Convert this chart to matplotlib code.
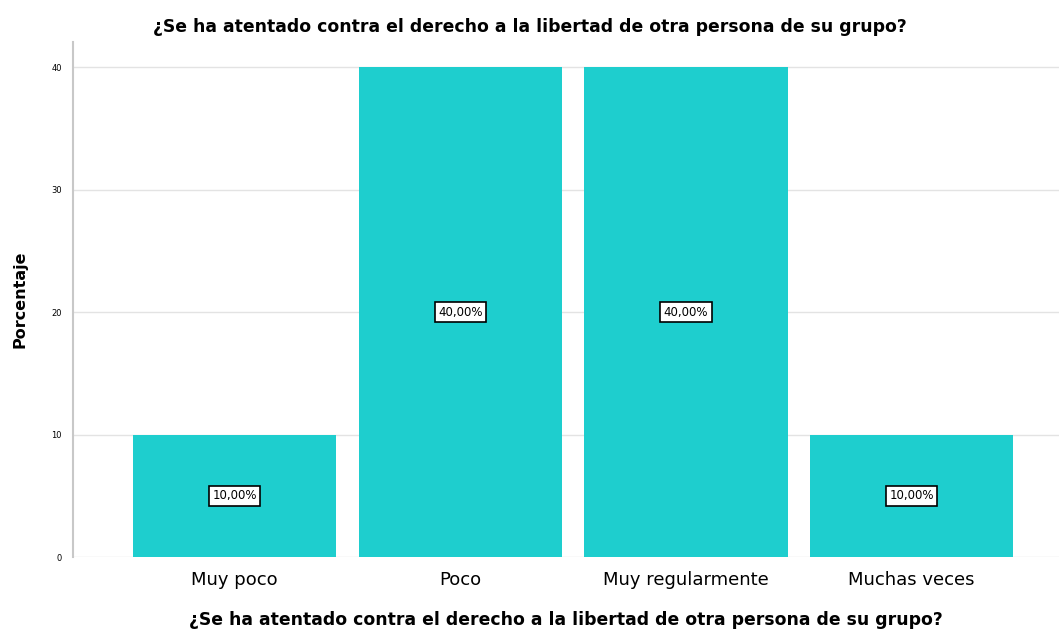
import matplotlib
matplotlib.use('Agg')
import matplotlib.pyplot as plt
import numpy as np

titulo = '¿Se ha atentado contra el derecho a la libertad de otra persona de su grupo?'
categorias = ['Muy poco', 'Poco', 'Muy regularmente', 'Muchas veces']
porcentajes = [10.0, 40.0, 40.0, 10.0]
etiquetas = ['10,00%', '40,00%', '40,00%', '10,00%']
yticks = [0, 10, 20, 30, 40]

plt.rcParams['font.family'] = ['DejaVu Sans']

fig = plt.figure(figsize=(10.59, 6.31), dpi=100)
ax = fig.add_axes([0.069, 0.117, 0.931, 0.817])

x = np.arange(len(categorias))
ax.bar(x, porcentajes, width=0.9, color='#1ECECE', zorder=2)

for xi, yi, lab in zip(x, porcentajes, etiquetas):
    ax.text(xi, yi / 2, lab, ha='center', va='center', fontsize=8.5, zorder=3,
            bbox=dict(boxstyle='square,pad=0.3', facecolor='white', edgecolor='black', linewidth=1.2))

ax.set_xlim(-0.716, 3.653)
ax.set_ylim(0, 42.1)
ax.set_yticks(yticks)
ax.set_yticklabels([str(t) for t in yticks], fontsize=6)
ax.set_xticks(x)
ax.set_xticklabels(categorias, fontsize=13)
ax.tick_params(axis='x', length=0, pad=10)
ax.tick_params(axis='y', length=0, pad=8)
ax.yaxis.grid(True, color='#e3e3e3', linewidth=1, zorder=0)
ax.set_axisbelow(True)

for s in ['top', 'right', 'bottom']:
    ax.spines[s].set_visible(False)
ax.spines['left'].set_color('#c8c8c8')
ax.spines['left'].set_linewidth(1.5)

ax.set_ylabel('Porcentaje', fontsize=11.5, fontweight='bold', labelpad=17)
ax.set_xlabel(titulo, fontsize=12.4, fontweight='bold', labelpad=16)
fig.text(0.5, 0.957, titulo, ha='center', va='center', fontsize=12.4, fontweight='bold')

fig.savefig('out.png', dpi=100, facecolor='white')
